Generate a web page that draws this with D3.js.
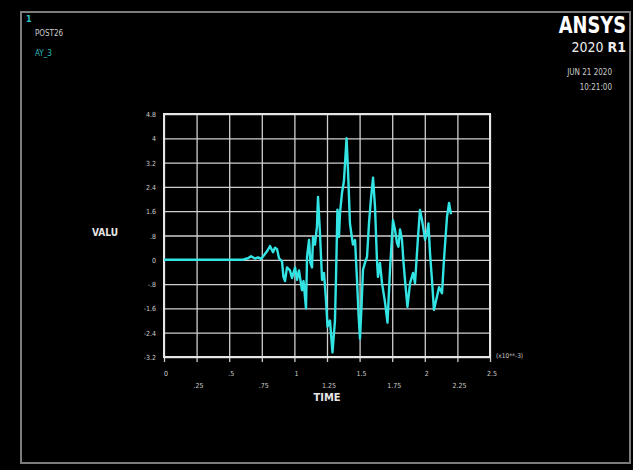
<!DOCTYPE html>
<html>
<head>
<meta charset="utf-8">
<script src="https://cdn.jsdelivr.net/npm/d3@7"></script>
<style>
  html, body { margin: 0; padding: 0; background: #000; }
  svg { display: block; }
</style>
</head>
<body>
<svg id="chart" width="633" height="470"></svg>
<script>
// Response history AY_3 (time in units of 1e-3)
const timeValues = [0, 0.598, 0.644, 0.667, 0.698, 0.721, 0.744, 0.767, 0.790, 0.813, 0.836,
  0.851, 0.867, 0.882, 0.905, 0.916, 0.928, 0.943, 0.966, 0.982, 1.005, 1.020, 1.035, 1.058,
  1.070, 1.089, 1.097, 1.112, 1.123, 1.135, 1.143, 1.158, 1.173, 1.181, 1.196, 1.212, 1.227,
  1.242, 1.254, 1.273, 1.292, 1.311, 1.319, 1.330, 1.342, 1.350, 1.365, 1.380, 1.400, 1.411,
  1.426, 1.442, 1.449, 1.465, 1.480, 1.492, 1.503, 1.515, 1.526, 1.541, 1.557, 1.572, 1.587,
  1.603, 1.618, 1.633, 1.641, 1.656, 1.672, 1.695, 1.714, 1.733, 1.756, 1.771, 1.787, 1.798,
  1.810, 1.825, 1.837, 1.848, 1.867, 1.887, 1.910, 1.925, 1.948, 1.963, 1.979, 2.002, 2.017,
  2.028, 2.040, 2.055, 2.070, 2.094, 2.109, 2.132, 2.147, 2.170, 2.186, 2.201];
const ay3Values = [0, 0, 0.05, 0.12, 0.04, 0.08, 0.03, 0.15, 0.28, 0.45, 0.25,
  0.40, 0.35, 0.05, -0.05, -0.56, -0.7, -0.25, -0.35, -0.6, -0.25, -0.66, -0.35, -1.0,
  -0.7, -1.6, 0.1, 0.65, -0.1, -0.25, 0.75, 0.5, 1.1, 2.07, 0.9, -0.66, -0.43,
  -1.3, -2.2, -2.0, -3.05, -2.0, -0.6, 1.65, 0.75, 1.55, 2.2, 2.6, 4.0, 2.96,
  1.2, 0.7, 0.5, 0.65, -0.66, -1.8, -2.6, -1.5, -0.33, -0.1, 0.1, 1.2, 2.0,
  2.7, 1.75, 0.0, -0.56, -0.1, -0.77, -1.4, -2.07, -0.33, 1.3, 1.0, 0.55, 0.43,
  1.0, 0.66, -0.1, -0.66, -1.55, -0.77, -0.43, -0.77, 0.75, 1.64, 1.3, 0.66, 0.9,
  1.2, 0.22, -0.66, -1.65, -1.2, -0.9, -1.1, 0.0, 1.4, 1.87, 1.5];

const xTickValues = [0, 0.25, 0.5, 0.75, 1, 1.25, 1.5, 1.75, 2, 2.25, 2.5];
const xTickLabels = ["0", ".25", ".5", ".75", "1", "1.25", "1.5", "1.75", "2", "2.25", "2.5"];
const yTickValues = [4.8, 4, 3.2, 2.4, 1.6, 0.8, 0, -0.8, -1.6, -2.4, -3.2];
const yTickLabels = ["4.8", "4", "3.2", "2.4", "1.6", ".8", "0", "-.8", "-1.6", "-2.4", "-3.2"];

const svg = d3.select("#chart");
const plot = { left: 164, right: 490, top: 114, bottom: 357 };

const x = d3.scaleLinear().domain([0, 2.5]).range([plot.left, plot.right]);
const y = d3.scaleLinear().domain([-3.2, 4.8]).range([plot.bottom, plot.top]);

const labelFont = "'DejaVu Sans Condensed', 'DejaVu Sans', sans-serif";
const grey = "#cccccc";

// Window frame
svg.append("rect")
  .attr("x", 21).attr("y", 12).attr("width", 609).attr("height", 451)
  .attr("fill", "none").attr("stroke", "#7c7c7c").attr("stroke-width", 2);

// Header texts
svg.append("text").attr("x", 26).attr("y", 22).text("1")
  .attr("fill", "#2fc6c6").attr("font-family", labelFont).attr("font-size", 9).attr("font-weight", "bold");
svg.append("text").attr("x", 35).attr("y", 36).text("POST26")
  .attr("fill", grey).attr("font-family", labelFont).attr("font-size", 8);
svg.append("text").attr("x", 35).attr("y", 56).text("AY_3")
  .attr("fill", "#2fbcbc").attr("font-family", labelFont).attr("font-size", 8);

// Product logo text, horizontally condensed
svg.append("g").attr("transform", "translate(626,33) scale(0.86,1)")
  .append("text").attr("x", 0).attr("y", 0).text("ANSYS")
  .attr("text-anchor", "end").attr("fill", "#fff").attr("font-family", labelFont)
  .attr("font-size", 23).attr("font-weight", "bold");
const rel = svg.append("text").attr("x", 626).attr("y", 52).attr("text-anchor", "end")
  .attr("fill", "#eee").attr("font-family", labelFont).attr("font-size", 14);
rel.append("tspan").text("2020 ");
rel.append("tspan").attr("font-weight", "bold").text("R1");

svg.append("text").attr("x", 612).attr("y", 75).text("JUN 21 2020")
  .attr("text-anchor", "end").attr("fill", grey).attr("font-family", labelFont).attr("font-size", 8);
svg.append("text").attr("x", 612).attr("y", 90).text("10:21:00")
  .attr("text-anchor", "end").attr("fill", grey).attr("font-family", labelFont).attr("font-size", 8);

// Grid lines via axes
const gridColor = "#cfcfcf";
const xGrid = svg.append("g")
  .attr("transform", `translate(0,${plot.bottom})`)
  .call(d3.axisBottom(x).tickValues(xTickValues).tickFormat("")
    .tickSizeInner(-(plot.bottom - plot.top)).tickSizeOuter(0));
xGrid.select(".domain").remove();
xGrid.selectAll("line").attr("stroke", gridColor).attr("stroke-width", 1.3)
  .attr("y2", -(plot.bottom - plot.top)).attr("y1", 5);

const yGrid = svg.append("g")
  .attr("transform", `translate(${plot.left},0)`)
  .call(d3.axisLeft(y).tickValues(yTickValues).tickFormat("")
    .tickSizeInner(-(plot.right - plot.left)).tickSizeOuter(0));
yGrid.select(".domain").remove();
yGrid.selectAll("line").attr("stroke", gridColor).attr("stroke-width", 1.3);

// Plot border
svg.append("rect")
  .attr("x", plot.left).attr("y", plot.top)
  .attr("width", plot.right - plot.left).attr("height", plot.bottom - plot.top)
  .attr("fill", "none").attr("stroke", "#e6e6e6").attr("stroke-width", 2);

// Tick labels
svg.append("g").selectAll("text").data(yTickValues).join("text")
  .attr("x", plot.left - 8).attr("y", d => y(d) + 3)
  .attr("text-anchor", "end").attr("fill", grey)
  .attr("font-family", labelFont).attr("font-size", 7)
  .text((d, i) => yTickLabels[i]);

svg.append("g").selectAll("text").data(xTickValues).join("text")
  .attr("x", d => x(d) + 2).attr("y", (d, i) => i % 2 === 0 ? 376 : 388)
  .attr("text-anchor", "middle").attr("fill", grey)
  .attr("font-family", labelFont).attr("font-size", 7)
  .text((d, i) => xTickLabels[i]);

svg.append("text").attr("x", 496).attr("y", 358).text("(x10**-3)")
  .attr("fill", grey).attr("font-family", labelFont).attr("font-size", 6.5);

svg.append("text").attr("x", 327).attr("y", 401).text("TIME")
  .attr("text-anchor", "middle").attr("fill", "#e6e6e6").attr("font-family", labelFont)
  .attr("font-size", 11).attr("font-weight", "bold");
svg.append("text").attr("x", 105).attr("y", 236).text("VALU")
  .attr("text-anchor", "middle").attr("fill", "#e6e6e6").attr("font-family", labelFont)
  .attr("font-size", 10).attr("font-weight", "bold");

// Response curve
const points = timeValues.map((t, i) => [t, ay3Values[i]]);
svg.append("path")
  .datum(points)
  .attr("fill", "none")
  .attr("stroke", "#33e4e4")
  .attr("stroke-width", 2.4)
  .attr("stroke-linejoin", "round")
  .attr("d", d3.line().x(d => x(d[0])).y(d => y(d[1])));
</script>
</body>
</html>
